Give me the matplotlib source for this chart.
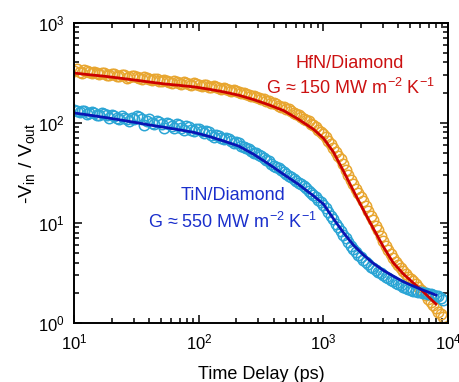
import matplotlib
matplotlib.use("Agg")
import matplotlib.pyplot as plt

plt.rcParams['font.family'] = ['Liberation Sans', 'DejaVu Sans']
plt.rcParams['mathtext.fontset'] = 'custom'
plt.rcParams['mathtext.rm'] = 'Liberation Sans'
plt.rcParams['mathtext.it'] = 'Liberation Sans:italic'

# measured delay times (ps), two interleaved scans
t_a = [10.0, 11.0, 12.0, 13.2, 14.5, 15.8, 17.4, 19.1, 20.9, 22.9,
       25.1, 27.5, 30.2, 33.1, 36.3, 39.8, 43.7, 47.9, 52.5, 57.5,
       63.1, 69.2, 75.9, 83.2, 91.2, 100, 110, 120, 132, 145,
       158, 174, 191, 209, 229, 251, 275, 302, 331, 363,
       398, 437, 479, 525, 575, 631, 692, 759, 832, 912,
       1000, 1096, 1202, 1318, 1445, 1585, 1738, 1905, 2089, 2291,
       2512, 2754, 3020, 3311, 3631, 3981, 4365, 4786, 5248, 5754,
       6310, 6918, 7586, 8318, 9120]
t_b = [10.5, 11.5, 12.6, 13.8, 15.1, 16.6, 18.2, 20.0, 21.9, 24.0,
       26.3, 28.8, 31.6, 34.7, 38.0, 41.7, 45.7, 50.1, 55.0, 60.3,
       66.1, 72.4, 79.4, 87.1, 95.5, 105, 115, 126, 138, 151,
       166, 182, 200, 219, 240, 263, 288, 316, 347, 380,
       417, 457, 501, 550, 603, 661, 724, 794, 871, 955,
       1047, 1148, 1259, 1380, 1514, 1660, 1820, 1995, 2188, 2399,
       2630, 2884, 3162, 3467, 3802, 4169, 4571, 5012, 5495, 6026,
       6607, 7244, 7943, 8710]

# HfN/Diamond data  (-Vin/Vout)
hfn_a = [330, 320, 335, 318, 322, 305, 315, 300, 306, 292,
         300, 286, 295, 278, 284, 270, 276, 262, 268, 255,
         262, 250, 256, 244, 250, 238, 240, 228, 232, 222,
         222, 212, 214, 202, 198, 190, 186, 176, 172, 163,
         158, 148, 144, 136, 126, 118, 110, 103, 94, 85,
         77, 66, 56, 47, 39, 30, 24.5, 20, 16.5, 13.2,
         10.6, 8.4, 6.6, 5.4, 4.5, 3.8, 3.3, 2.9, 2.6, 2.3,
         2.05, 1.75, 1.5, 1.3, 1.15]
hfn_b = [340, 312, 326, 310, 316, 312, 296, 308, 290, 298,
         282, 290, 284, 272, 280, 264, 270, 258, 262, 250,
         254, 246, 250, 240, 244, 232, 236, 225, 226, 216,
         216, 206, 206, 196, 194, 184, 180, 172, 166, 158,
         152, 143, 138, 130, 122, 114, 107, 98, 90, 80,
         72, 61, 51.5, 43, 34, 27, 22, 18, 14.7, 11.8,
         9.4, 7.4, 5.9, 4.9, 4.1, 3.55, 3.1, 2.75, 2.45, 2.15,
         1.9, 1.62, 1.4, 1.22]

# TiN/Diamond data
tin_a = [135, 128, 132, 124, 126, 118, 122, 112, 116, 108,
         112, 104, 108, 114, 95, 108, 96, 102, 88, 98,
         89, 95, 84, 90, 82, 86, 78, 80, 72, 74,
         68, 68, 62, 62, 57, 54, 50, 48, 44, 41,
         37, 35, 32, 29.5, 27.5, 25, 23.5, 21, 19, 17,
         15, 12.8, 10.8, 9.0, 7.6, 6.4, 5.5, 4.8, 4.3, 3.85,
         3.5, 3.25, 3.0, 2.8, 2.6, 2.45, 2.3, 2.2, 2.1, 2.05,
         2.0, 1.95, 1.9, 1.85, 1.7]
tin_b = [130, 132, 122, 128, 120, 124, 118, 120, 112, 116,
         109, 112, 116, 110, 104, 100, 104, 96, 100, 92,
         96, 88, 92, 84, 87, 82, 82, 76, 76, 70,
         70, 65, 64, 59, 56, 52.5, 49.5, 46, 42.5, 39,
         36, 33.5, 31, 28.5, 26, 24.3, 22.2, 20, 18, 16.2,
         14, 11.8, 9.8, 8.3, 7.0, 5.9, 5.1, 4.55, 4.05, 3.65,
         3.38, 3.12, 2.9, 2.7, 2.52, 2.38, 2.25, 2.15, 2.08, 2.02,
         1.98, 1.93, 1.88, 1.78]

# model fits
t_fit = [10, 13.2, 17.4, 22.9, 30.2, 39.8, 52.5, 69.2, 91.2, 120,
         158, 209, 275, 363, 479, 631, 832, 1000, 1202, 1445,
         1738, 2089, 2512, 3020, 3631, 4365, 5248, 6310, 7586, 8000]
hfn_fit = [313, 301, 291, 279, 267, 255, 244, 236, 228, 216,
           203, 188, 170, 151, 132, 108, 86, 70, 51, 33,
           21, 13.5, 8.8, 5.8, 4.0, 3.1, 2.52, 2.06, 1.65, 1.55]
tin_fit = [125, 119, 113, 107, 101, 95, 90, 85, 80, 73.1,
           65.6, 58.4, 48.4, 38.7, 30.5, 24.2, 18.6, 15.4, 11, 8.0,
           6.0, 4.8, 3.94, 3.36, 2.94, 2.59, 2.34, 2.13, 1.95, 1.90]

fig = plt.figure(figsize=(4.59, 3.82), dpi=100)
ax = fig.add_axes([0.162, 0.1545, 0.814, 0.7865])

mk = dict(ls='none', marker='o', mfc='none', ms=7.5, mew=1.1)
ax.plot(t_a, hfn_a, mec='#E8A630', **mk)
ax.plot(t_b, hfn_b, mec='#E8A630', **mk)
ax.plot(t_a, tin_a, mec='#2BA5D5', **mk)
ax.plot(t_b, tin_b, mec='#2BA5D5', **mk)
ax.plot(t_fit, hfn_fit, '-', color='#CC0000', lw=2.0)
ax.plot(t_fit, tin_fit, '-', color='#0A14B4', lw=2.0)

ax.set_xscale('log')
ax.set_yscale('log')
ax.set_xlim(10, 1e4)
ax.set_ylim(1, 1e3)

ax.tick_params(which='both', direction='in', top=True, right=True, width=1.1, labelsize=12)
ax.tick_params(which='major', length=6, pad=7)
ax.tick_params(which='minor', length=3.5)
for s in ax.spines.values():
    s.set_linewidth(1.4)

ax.set_xlabel('Time Delay (ps)', fontsize=13, labelpad=10)
ax.set_ylabel(r'-V$_{\mathregular{in}}$ / V$_{\mathregular{out}}$', fontsize=14)
ax.yaxis.set_label_coords(-0.10, 0.53)

red_txt = '#CC1111'
blue_txt = '#1A2FCC'
ax.text(0.738, 0.865, 'HfN/Diamond', transform=ax.transAxes, ha='center', va='center',
        color=red_txt, fontsize=13)
ax.text(0.738, 0.782, r'G ≈ 150 MW m$^{\mathregular{-2}}$ K$^{\mathregular{-1}}$',
        transform=ax.transAxes, ha='center', va='center', color=red_txt, fontsize=13)
ax.text(0.424, 0.423, 'TiN/Diamond', transform=ax.transAxes, ha='center', va='center',
        color=blue_txt, fontsize=13)
ax.text(0.424, 0.336, r'G ≈ 550 MW m$^{\mathregular{-2}}$ K$^{\mathregular{-1}}$',
        transform=ax.transAxes, ha='center', va='center', color=blue_txt, fontsize=13)

fig.savefig('out.png', dpi=100)
